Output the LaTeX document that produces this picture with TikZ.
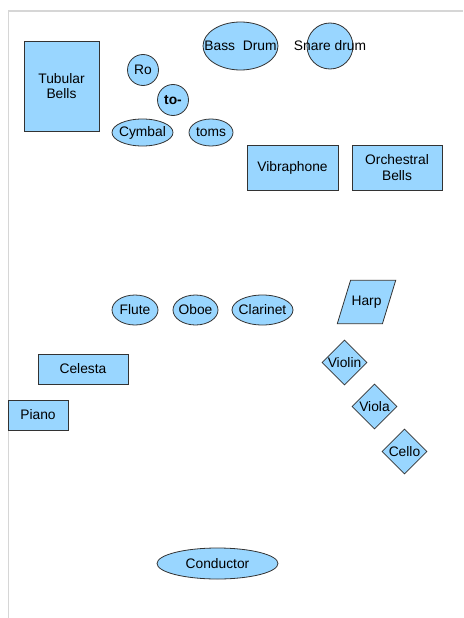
\documentclass[tikz,border=0pt]{standalone}
\usepackage{fontspec}
\setmainfont{Liberation Sans}
\usetikzlibrary{shapes.geometric}
\definecolor{partfill}{RGB}{153,214,255}
\definecolor{framegray}{RGB}{214,214,214}

\begin{document}
\begin{tikzpicture}[x=1pt,y=-1pt,
  font=\fontsize{13.8}{15.5}\selectfont,
  part/.style={draw=black!80,fill=partfill,line width=0.8pt,inner sep=0pt,align=center},
  box/.style={part,rectangle},
  oval/.style={part,ellipse},
  drum/.style={part,circle},
  rhomb/.style={part,diamond,minimum width=45,minimum height=45},
  slab/.style={part,trapezium,trapezium left angle=73,trapezium right angle=107,inner xsep=1pt,inner ysep=15.5pt}]
\useasboundingbox (0,0) rectangle (463,618);
\draw[framegray,line width=1.5pt] (8.5,618)--(8.5,11)--(463,11);
% percussion
\node[box,minimum width=75,minimum height=90] (tubular) at(61.5,86){Tubular\\Bells};
\node[drum,minimum size=31] (ro) at(143,70){Ro};
\node[drum,minimum size=31] (tomtom) at(173,100){\textbf{to-}};
\node[oval,minimum width=61,minimum height=27] (cymbal) at(142.5,132.5){\makebox[0pt]{Cymbal}};
\node[oval,minimum width=44,minimum height=27] (toms) at(211,132.5){\makebox[0pt]{toms}};
\node[oval,minimum width=75,minimum height=48] (bass) at(240.5,46){\makebox[0pt]{Bass~ Drum}};
\node[drum,minimum size=46] (snare) at(330,46){\makebox[0pt]{Snare drum}};
\node[box,minimum width=91,minimum height=45] (vibes) at(292.5,167.5){Vibraphone};
\node[box,minimum width=90,minimum height=45] (orch) at(397,167.5){Orchestral\\Bells};
% winds
\node[oval,minimum width=46,minimum height=30] (flute) at(135,310){\makebox[0pt]{Flute}};
\node[oval,minimum width=45,minimum height=30] (oboe) at(195.5,310){\makebox[0pt]{Oboe}};
\node[oval,minimum width=61,minimum height=30] (clarinet) at(262.5,310){\makebox[0pt]{Clarinet}};
% keyboards
\node[box,minimum width=90,minimum height=30] (celesta) at(83,369){Celesta};
\node[box,minimum width=60,minimum height=30] (piano) at(38,415){Piano};
% strings
\node[slab] (harp) at(366.5,302){Harp};
\node[rhomb] (violin) at(344.5,362.5){\makebox[0pt]{Violin}};
\node[rhomb] (viola) at(374.5,406.5){\makebox[0pt]{Viola}};
\node[rhomb] (cello) at(404.5,451.5){\makebox[0pt]{Cello}};
\node[oval,minimum width=121,minimum height=31] (conductor) at(217.5,563.5){Conductor};
\end{tikzpicture}
\end{document}
